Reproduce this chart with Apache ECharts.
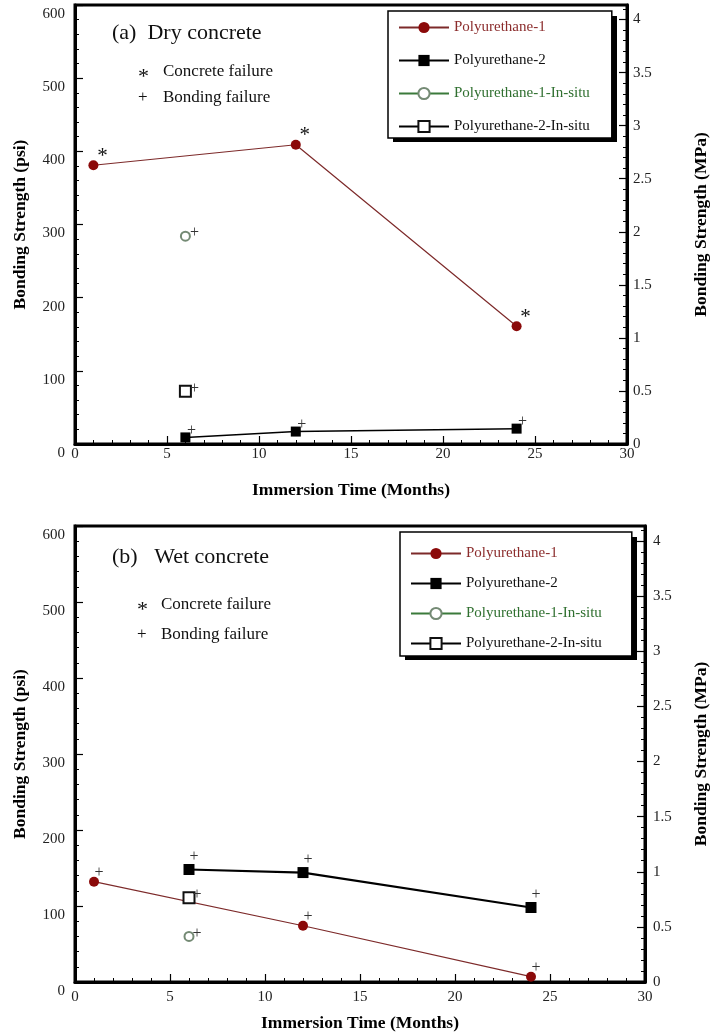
<!DOCTYPE html>
<html>
<head>
<meta charset="utf-8">
<script src="https://cdn.jsdelivr.net/npm/echarts@6/dist/echarts.min.js"></script>
<style>
html,body{margin:0;padding:0;background:#fff;}
#chart{width:711px;height:1036px;}
</style>
</head>
<body>
<div id="chart"></div>
<script>
// (a) Dry concrete  —— 数据 (psi)
var dryMonthsP1 = [1, 12, 24];
var dryP1 = [381, 409, 161];
var dryP1Fail = ['*', '*', '*'];
var dryMonthsP2 = [6, 12, 24];
var dryP2 = [9, 17, 21];
var dryP2Fail = ['+', '+', '+'];
var dryMonthsInsitu = [6];
var dryP1Insitu = [284];
var dryP2Insitu = [72];
var dryInsituFail = ['+'];

// (b) Wet concrete
var wetMonthsP1 = [1, 12, 24];
var wetP1 = [132, 74, 7];
var wetP1Fail = ['+', '+', '+'];
var wetMonthsP2 = [6, 12, 24];
var wetP2 = [148, 144, 98];
var wetP2Fail = ['+', '+', '+'];
var wetMonthsInsitu = [6];
var wetP1Insitu = [60];
var wetP2Insitu = [111];
var wetInsituFail = ['+'];

var seriesNames = ['Polyurethane-1', 'Polyurethane-2', 'Polyurethane-1-In-situ', 'Polyurethane-2-In-situ'];
var psiMax = 600;
var mpaPerPsi = 0.00689476;
var monthMax = 30;

var font = 'Liberation Serif';
var myChart = echarts.init(document.getElementById('chart'));

function pairs(xs, ys) { //组合坐标
	return xs.map(function(x, i) { return [x, ys[i]]; });
}

function failLabel(marks, offset) { //破坏形式标记 * 或 +
	return {
		show: true,
		position: 'inside',
		offset: offset,
		formatter: function(p) { return marks[p.dataIndex] === '*' ? '{s|*}' : '{p|+}'; },
		rich: {
			s: { fontFamily: font, fontSize: 21, color: '#111' },
			p: { fontFamily: font, fontSize: 16, color: '#333' }
		}
	};
}

function xAxisOf(gi, labelMargin, nameGap) {
	return {
		gridIndex: gi,
		type: 'value',
		min: 0,
		max: monthMax,
		interval: 5,
		name: 'Immersion Time (Months)',
		nameLocation: 'middle',
		nameGap: nameGap,
		nameTextStyle: { fontFamily: font, fontWeight: 'bold', fontSize: 17.5, color: '#000' },
		axisLine: { show: true, lineStyle: { color: '#000', width: 3 } },
		axisTick: { inside: true, length: 8, lineStyle: { color: '#000', width: 1.2 } },
		minorTick: { show: true, splitNumber: 5, length: 4, lineStyle: { color: '#000', width: 1 } },
		axisLabel: { fontFamily: font, fontSize: 15, color: '#222', margin: labelMargin },
		splitLine: { show: false },
		minorSplitLine: { show: false }
	};
}

function yAxesOf(gi, rightGap, rightMargin) {
	var mpaMax = psiMax * mpaPerPsi;
	return [{
		gridIndex: gi,
		type: 'value',
		position: 'left',
		min: 0,
		max: psiMax,
		interval: 100,
		name: 'Bonding Strength (psi)',
		nameLocation: 'middle',
		nameRotate: 90,
		nameGap: 46,
		nameTextStyle: { fontFamily: font, fontWeight: 'bold', fontSize: 17.5, color: '#000' },
		axisLine: { show: true, lineStyle: { color: '#000', width: 3 } },
		axisTick: { inside: true, length: 8, lineStyle: { color: '#000', width: 1.2 } },
		minorTick: { show: true, splitNumber: 5, length: 4, lineStyle: { color: '#000', width: 1 } },
		axisLabel: { fontFamily: font, fontSize: 15, color: '#222', margin: 10, verticalAlign: 'top', lineHeight: 18 },
		splitLine: { show: false }
	}, {
		gridIndex: gi,
		type: 'value',
		position: 'right',
		offset: 0,
		min: 0,
		max: mpaMax,
		interval: 0.5,
		name: 'Bonding Strength (MPa)',
		nameLocation: 'middle',
		nameRotate: 90,
		nameGap: rightGap,
		nameTextStyle: { fontFamily: font, fontWeight: 'bold', fontSize: 17.5, color: '#000' },
		axisLine: { show: true, lineStyle: { color: '#000', width: 3 } },
		axisTick: { inside: true, length: 8, lineStyle: { color: '#000', width: 1.2 } },
		axisLabel: { fontFamily: font, fontSize: 15, color: '#222', margin: rightMargin, showMaxLabel: false },
		splitLine: { show: false }
	}, {
		gridIndex: gi, //右侧小刻度 0.1 MPa
		type: 'value',
		position: 'right',
		offset: 0,
		min: 0,
		max: mpaMax,
		interval: 0.1,
		axisLine: { show: false },
		axisTick: { inside: true, length: 4, lineStyle: { color: '#000', width: 1 } },
		axisLabel: { show: false },
		splitLine: { show: false }
	}];
}

function seriesOf(gi, yi, d) {
	return [{
		name: seriesNames[0],
		type: 'line',
		xAxisIndex: gi,
		yAxisIndex: yi,
		data: pairs(d.m1, d.p1),
		symbol: 'circle',
		symbolSize: 10,
		itemStyle: { color: '#8b0a0a' },
		lineStyle: { color: '#7d2a2a', width: 1.2 },
		label: failLabel(d.p1Fail, d.p1Off),
		z: 3
	}, {
		name: seriesNames[1],
		type: 'line',
		xAxisIndex: gi,
		yAxisIndex: yi,
		data: pairs(d.m2, d.p2),
		symbol: 'rect',
		symbolSize: d.sq,
		itemStyle: { color: '#000' },
		lineStyle: { color: '#000', width: d.p2Width },
		label: failLabel(d.p2Fail, d.p2Off),
		z: 3
	}, {
		name: seriesNames[2],
		type: 'line',
		xAxisIndex: gi,
		yAxisIndex: yi,
		data: pairs(d.mi, d.p1i),
		symbol: 'emptyCircle',
		symbolSize: 9,
		itemStyle: { color: '#748a74', borderWidth: 1.2 },
		lineStyle: { color: '#3b7a3b', width: 1.2 },
		label: failLabel(d.iFail, d.iOff),
		z: 3
	}, {
		name: seriesNames[3],
		type: 'line',
		xAxisIndex: gi,
		yAxisIndex: yi,
		data: pairs(d.mi, d.p2i),
		symbol: 'emptyRect',
		symbolSize: 11,
		itemStyle: { color: '#111', borderWidth: 1.2 },
		lineStyle: { color: '#000', width: 1.2 },
		label: failLabel(d.iFail, d.iOff),
		z: 3
	}];
}

function legendOf(left, top, gap, padding) {
	return {
		orient: 'vertical',
		left: left,
		top: top,
		itemWidth: 50,
		itemHeight: 14,
		itemGap: gap,
		padding: padding,
		backgroundColor: '#fff',
		borderColor: '#000',
		borderWidth: 1.5,
		textStyle: { fontFamily: font, fontSize: 15, color: '#111' },
		data: [
			{ name: seriesNames[0], textStyle: { color: '#8b2c2c' } },
			{ name: seriesNames[1], textStyle: { color: '#111' } },
			{ name: seriesNames[2], textStyle: { color: '#2f6f2f' } },
			{ name: seriesNames[3], textStyle: { color: '#111' } }
		],
		selectedMode: false
	};
}

function textEl(x, y, s, size) {
	return {
		type: 'text',
		x: x,
		y: y,
		style: { text: s, fontFamily: font, fontSize: size, fill: '#111', verticalAlign: 'middle', align: 'left' },
		z: 10
	};
}

function shadowEl(x, y, w, h) { //图例阴影
	return { type: 'rect', shape: { x: x, y: y, width: w, height: h }, style: { fill: '#000' }, z: 3 };
}

var dry = {
	m1: dryMonthsP1, p1: dryP1, p1Fail: dryP1Fail, p1Off: [9, -9],
	m2: dryMonthsP2, p2: dryP2, p2Fail: dryP2Fail, p2Off: [6, -7], p2Width: 1.5, sq: 10,
	mi: dryMonthsInsitu, p1i: dryP1Insitu, p2i: dryP2Insitu, iFail: dryInsituFail, iOff: [9, -3]
};
var wet = {
	m1: wetMonthsP1, p1: wetP1, p1Fail: wetP1Fail, p1Off: [5, -9],
	m2: wetMonthsP2, p2: wetP2, p2Fail: wetP2Fail, p2Off: [5, -13], p2Width: 2.2, sq: 11,
	mi: wetMonthsInsitu, p1i: wetP1Insitu, p2i: wetP2Insitu, iFail: wetInsituFail, iOff: [8, -3]
};

var option = {
	backgroundColor: '#fff',
	animation: false,
	grid: [
		{ left: 75, top: 5, width: 552, height: 439, show: true, borderColor: '#000', borderWidth: 3, backgroundColor: 'transparent', outerBoundsMode: 'none' },
		{ left: 75, top: 526, width: 570, height: 456, show: true, borderColor: '#000', borderWidth: 3, backgroundColor: 'transparent', outerBoundsMode: 'none' }
	],
	xAxis: [xAxisOf(0, 3, 37), xAxisOf(1, 8, 32)],
	yAxis: yAxesOf(0, 65, 6).concat(yAxesOf(1, 47, 8)),
	legend: [
		legendOf(388, 11, 18, [9, 22, 4, 10]),
		legendOf(400, 532, 15, [14, 30, 5, 10])
	],
	graphic: [
		shadowEl(393, 16, 224, 126),
		shadowEl(405, 537, 232, 123),
		textEl(112, 33, '(a)  Dry concrete', 22),
		textEl(138, 77, '*', 22),
		textEl(163, 72, 'Concrete failure', 17),
		textEl(138, 98, '+', 17),
		textEl(163, 98, 'Bonding failure', 17),
		textEl(112, 557, '(b)   Wet concrete', 22),
		textEl(137, 610, '*', 22),
		textEl(161, 605, 'Concrete failure', 17),
		textEl(137, 635, '+', 17),
		textEl(161, 635, 'Bonding failure', 17)
	],
	series: seriesOf(0, 0, dry).concat(seriesOf(1, 3, wet))
};

myChart.setOption(option);
window.addEventListener('resize', function() {
	myChart.resize();
});
</script>
</body>
</html>
